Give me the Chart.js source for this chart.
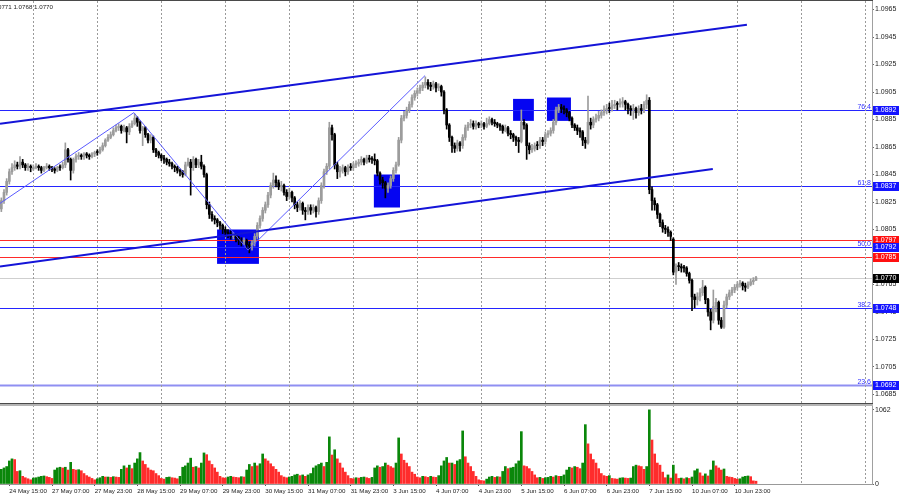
<!DOCTYPE html>
<html>
<head>
<meta charset="utf-8">
<title>EURUSD H1</title>
<script src="https://cdn.jsdelivr.net/npm/chart.js@4.4.1/dist/chart.umd.min.js"></script>
<style>
  html, body { margin: 0; padding: 0; background: #fff; }
  canvas { display: block; }
</style>
</head>
<body>
<canvas id="chart" width="900" height="500"></canvas>
<script>
// EURUSD H1, from 24 May 12:00 to 11 Jun 07:00 (one value per hourly bar)
const days = ["24 May", "27 May", "28 May", "29 May", "30 May", "31 May", "3 Jun",
  "4 Jun", "5 Jun", "6 Jun", "7 Jun", "10 Jun", "11 Jun", "12 Jun", "13 Jun"];

const opens = [
  1.0820,1.0826,1.0832,1.0840,1.0847,1.0850,1.0852,1.0851,1.0854,1.0852,1.0850,1.0851,
  1.0849,1.0850,1.0851,1.0850,1.0848,1.0850,1.0851,1.0850,1.0849,1.0848,1.0850,1.0850,
  1.0852,1.0863,1.0856,1.0848,1.0856,1.0858,1.0859,1.0858,1.0860,1.0859,1.0858,1.0860,
  1.0861,1.0861,1.0863,1.0866,1.0870,1.0872,1.0874,1.0877,1.0879,1.0880,1.0877,1.0879,
  1.0876,1.0880,1.0882,1.0886,1.0883,1.0877,1.0879,1.0874,1.0870,1.0872,1.0863,1.0861,
  1.0859,1.0857,1.0856,1.0854,1.0853,1.0851,1.0850,1.0848,1.0847,1.0845,1.0852,1.0854,
  1.0850,1.0856,1.0852,1.0854,1.0851,1.0845,1.0823,1.0816,1.0813,1.0812,1.0810,1.0808,
  1.0805,1.0803,1.0802,1.0800,1.0801,1.0799,1.0797,1.0796,1.0797,1.0794,1.0793,1.0795,
  1.0800,1.0808,1.0813,1.0819,1.0823,1.0830,1.0837,1.0841,1.0839,1.0836,1.0837,1.0832,
  1.0829,1.0832,1.0828,1.0823,1.0821,1.0824,1.0819,1.0818,1.0821,1.0819,1.0821,1.0818,
  1.0826,1.0837,1.0847,1.0851,1.0879,1.0874,1.0852,1.0847,1.0848,1.0850,1.0847,1.0850,
  1.0850,1.0852,1.0853,1.0854,1.0856,1.0854,1.0857,1.0856,1.0856,1.0855,1.0846,1.0841,
  1.0839,1.0835,1.0837,1.0842,1.0848,1.0852,1.0870,1.0886,1.0888,1.0892,1.0896,1.0901,
  1.0904,1.0906,1.0908,1.0910,1.0912,1.0910,1.0909,1.0911,1.0908,1.0909,1.0905,1.0892,
  1.0881,1.0872,1.0866,1.0864,1.0868,1.0866,1.0872,1.0879,1.0881,1.0882,1.0880,1.0882,
  1.0881,1.0882,1.0880,1.0882,1.0885,1.0883,1.0882,1.0881,1.0880,1.0877,1.0879,1.0875,
  1.0874,1.0872,1.0870,1.0869,1.0883,1.0881,1.0866,1.0863,1.0864,1.0866,1.0866,1.0870,
  1.0869,1.0874,1.0875,1.0877,1.0883,1.0892,1.0894,1.0893,1.0892,1.0890,1.0886,1.0881,
  1.0879,1.0877,1.0876,1.0870,1.0868,1.0883,1.0881,1.0885,1.0886,1.0888,1.0890,1.0892,
  1.0893,1.0893,1.0895,1.0896,1.0896,1.0897,1.0898,1.0896,1.0893,1.0892,1.0893,1.0890,
  1.0893,1.0892,1.0896,1.0899,1.0834,1.0826,1.0823,1.0816,1.0810,1.0806,1.0805,1.0803,
  1.0798,1.0774,1.0778,1.0778,1.0777,1.0777,1.0773,1.0768,1.0756,1.0754,1.0756,1.0759,
  1.0763,1.0754,1.0745,1.0739,1.0749,1.0752,1.0739,1.0734,1.0750,1.0756,1.0759,1.0761,
  1.0763,1.0765,1.0766,1.0764,1.0763,1.0765,1.0767,1.0768
];
const highs = [
  1.0828,1.0834,1.0842,1.0849,1.0853,1.0855,1.0854,1.0858,1.0856,1.0853,1.0853,1.0852,
  1.0852,1.0853,1.0852,1.0851,1.0851,1.0853,1.0852,1.0851,1.0850,1.0851,1.0852,1.0854,
  1.0868,1.0864,1.0857,1.0857,1.0860,1.0861,1.0860,1.0861,1.0861,1.0860,1.0861,1.0862,
  1.0863,1.0865,1.0868,1.0871,1.0874,1.0876,1.0879,1.0881,1.0882,1.0881,1.0881,1.0880,
  1.0882,1.0884,1.0889,1.0887,1.0884,1.0880,1.0880,1.0875,1.0874,1.0873,1.0864,1.0862,
  1.0860,1.0859,1.0857,1.0856,1.0854,1.0852,1.0851,1.0849,1.0848,1.0854,1.0857,1.0856,
  1.0858,1.0857,1.0856,1.0859,1.0852,1.0846,1.0825,1.0818,1.0815,1.0813,1.0811,1.0809,
  1.0807,1.0805,1.0804,1.0803,1.0802,1.0800,1.0799,1.0799,1.0798,1.0796,1.0797,1.0802,
  1.0810,1.0815,1.0821,1.0825,1.0832,1.0839,1.0846,1.0844,1.0841,1.0840,1.0838,1.0834,
  1.0835,1.0833,1.0829,1.0825,1.0826,1.0825,1.0821,1.0823,1.0823,1.0823,1.0822,1.0828,
  1.0839,1.0849,1.0853,1.0883,1.0881,1.0875,1.0854,1.0851,1.0852,1.0851,1.0852,1.0853,
  1.0854,1.0855,1.0856,1.0858,1.0857,1.0859,1.0859,1.0858,1.0860,1.0856,1.0847,1.0843,
  1.0840,1.0839,1.0844,1.0850,1.0854,1.0872,1.0888,1.0891,1.0894,1.0898,1.0903,1.0906,
  1.0908,1.0910,1.0912,1.0916,1.0914,1.0912,1.0913,1.0912,1.0911,1.0910,1.0906,1.0893,
  1.0882,1.0873,1.0868,1.0870,1.0869,1.0874,1.0881,1.0883,1.0885,1.0884,1.0884,1.0883,
  1.0884,1.0883,1.0886,1.0887,1.0886,1.0885,1.0883,1.0882,1.0881,1.0881,1.0880,1.0877,
  1.0875,1.0873,1.0872,1.0892,1.0885,1.0882,1.0868,1.0867,1.0868,1.0869,1.0872,1.0872,
  1.0876,1.0877,1.0879,1.0885,1.0894,1.0896,1.0896,1.0895,1.0893,1.0891,1.0887,1.0882,
  1.0881,1.0879,1.0877,1.0872,1.0902,1.0886,1.0887,1.0889,1.0891,1.0892,1.0895,1.0896,
  1.0897,1.0899,1.0899,1.0898,1.0900,1.0901,1.0899,1.0897,1.0895,1.0896,1.0894,1.0895,
  1.0896,1.0898,1.0903,1.0901,1.0836,1.0828,1.0824,1.0817,1.0812,1.0808,1.0807,1.0804,
  1.0799,1.0780,1.0781,1.0780,1.0779,1.0778,1.0774,1.0769,1.0758,1.0759,1.0762,1.0768,
  1.0764,1.0755,1.0747,1.0761,1.0755,1.0753,1.0741,1.0753,1.0758,1.0761,1.0763,1.0765,
  1.0767,1.0768,1.0767,1.0766,1.0767,1.0769,1.0770,1.0771
];
const lows = [
  1.0818,1.0824,1.0830,1.0838,1.0845,1.0848,1.0849,1.0849,1.0850,1.0848,1.0848,1.0847,
  1.0848,1.0849,1.0848,1.0846,1.0847,1.0849,1.0848,1.0847,1.0846,1.0847,1.0848,1.0849,
  1.0850,1.0854,1.0841,1.0846,1.0854,1.0856,1.0856,1.0856,1.0857,1.0856,1.0857,1.0858,
  1.0859,1.0860,1.0862,1.0865,1.0869,1.0871,1.0873,1.0876,1.0877,1.0875,1.0876,1.0868,
  1.0874,1.0879,1.0881,1.0880,1.0875,1.0866,1.0872,1.0868,1.0868,1.0861,1.0858,1.0857,
  1.0855,1.0853,1.0852,1.0851,1.0849,1.0847,1.0846,1.0844,1.0843,1.0844,1.0851,1.0830,
  1.0848,1.0850,1.0850,1.0849,1.0843,1.0820,1.0813,1.0811,1.0809,1.0807,1.0805,1.0802,
  1.0800,1.0799,1.0798,1.0798,1.0796,1.0794,1.0793,1.0794,1.0791,1.0788,1.0790,1.0793,
  1.0798,1.0806,1.0811,1.0817,1.0821,1.0828,1.0835,1.0836,1.0834,1.0833,1.0830,1.0826,
  1.0827,1.0825,1.0820,1.0818,1.0819,1.0816,1.0812,1.0816,1.0816,1.0817,1.0814,1.0816,
  1.0824,1.0835,1.0845,1.0849,1.0870,1.0849,1.0842,1.0843,1.0846,1.0844,1.0845,1.0848,
  1.0848,1.0850,1.0851,1.0852,1.0852,1.0853,1.0854,1.0853,1.0852,1.0844,1.0838,1.0835,
  1.0828,1.0832,1.0835,1.0840,1.0846,1.0851,1.0868,1.0884,1.0886,1.0890,1.0894,1.0899,
  1.0902,1.0904,1.0906,1.0908,1.0907,1.0906,1.0907,1.0905,1.0906,1.0902,1.0889,1.0878,
  1.0869,1.0861,1.0861,1.0862,1.0862,1.0864,1.0870,1.0877,1.0879,1.0878,1.0878,1.0879,
  1.0879,1.0878,1.0879,1.0881,1.0881,1.0880,1.0879,1.0877,1.0875,1.0876,1.0873,1.0871,
  1.0869,1.0866,1.0861,1.0868,1.0878,1.0856,1.0860,1.0861,1.0862,1.0863,1.0864,1.0866,
  1.0867,1.0872,1.0873,1.0875,1.0881,1.0890,1.0890,1.0889,1.0887,1.0884,1.0879,1.0877,
  1.0874,1.0872,1.0866,1.0864,1.0867,1.0878,1.0879,1.0883,1.0884,1.0886,1.0888,1.0889,
  1.0890,1.0891,1.0893,1.0892,1.0894,1.0894,1.0892,1.0889,1.0888,1.0885,1.0886,1.0888,
  1.0889,1.0890,1.0893,1.0831,1.0819,1.0819,1.0813,1.0807,1.0803,1.0802,1.0800,1.0797,
  1.0772,1.0765,1.0775,1.0774,1.0774,1.0771,1.0766,1.0746,1.0748,1.0750,1.0753,1.0757,
  1.0751,1.0742,1.0732,1.0737,1.0745,1.0736,1.0733,1.0733,1.0748,1.0754,1.0757,1.0759,
  1.0761,1.0763,1.0761,1.0760,1.0762,1.0764,1.0765,1.0768
];
const closes = [
  1.0826,1.0832,1.0840,1.0847,1.0850,1.0852,1.0851,1.0854,1.0852,1.0850,1.0851,1.0850,
  1.0850,1.0851,1.0850,1.0848,1.0850,1.0851,1.0850,1.0849,1.0848,1.0850,1.0850,1.0852,
  1.0863,1.0856,1.0848,1.0856,1.0858,1.0859,1.0858,1.0860,1.0859,1.0858,1.0860,1.0861,
  1.0861,1.0863,1.0866,1.0870,1.0872,1.0874,1.0877,1.0879,1.0880,1.0877,1.0879,1.0876,
  1.0880,1.0882,1.0886,1.0883,1.0877,1.0879,1.0874,1.0870,1.0872,1.0863,1.0861,1.0859,
  1.0857,1.0856,1.0854,1.0853,1.0851,1.0850,1.0848,1.0847,1.0845,1.0852,1.0854,1.0850,
  1.0856,1.0852,1.0854,1.0851,1.0845,1.0823,1.0816,1.0813,1.0812,1.0810,1.0808,1.0805,
  1.0803,1.0802,1.0800,1.0801,1.0799,1.0797,1.0796,1.0797,1.0794,1.0793,1.0795,1.0800,
  1.0808,1.0813,1.0819,1.0823,1.0830,1.0837,1.0841,1.0839,1.0836,1.0837,1.0832,1.0829,
  1.0832,1.0828,1.0823,1.0821,1.0824,1.0819,1.0818,1.0821,1.0819,1.0821,1.0818,1.0826,
  1.0837,1.0847,1.0851,1.0879,1.0874,1.0852,1.0847,1.0848,1.0850,1.0847,1.0850,1.0850,
  1.0852,1.0853,1.0854,1.0856,1.0854,1.0857,1.0856,1.0856,1.0855,1.0846,1.0841,1.0839,
  1.0835,1.0837,1.0842,1.0848,1.0852,1.0870,1.0886,1.0888,1.0892,1.0896,1.0901,1.0904,
  1.0906,1.0908,1.0910,1.0912,1.0910,1.0909,1.0911,1.0908,1.0909,1.0905,1.0892,1.0881,
  1.0872,1.0866,1.0864,1.0868,1.0866,1.0872,1.0879,1.0881,1.0882,1.0880,1.0882,1.0881,
  1.0882,1.0880,1.0882,1.0885,1.0883,1.0882,1.0881,1.0880,1.0877,1.0879,1.0875,1.0874,
  1.0872,1.0870,1.0869,1.0883,1.0881,1.0866,1.0863,1.0864,1.0866,1.0866,1.0870,1.0869,
  1.0874,1.0875,1.0877,1.0883,1.0892,1.0894,1.0893,1.0892,1.0890,1.0886,1.0881,1.0879,
  1.0877,1.0876,1.0870,1.0868,1.0883,1.0881,1.0885,1.0886,1.0888,1.0890,1.0892,1.0893,
  1.0893,1.0895,1.0896,1.0896,1.0897,1.0898,1.0896,1.0893,1.0892,1.0893,1.0890,1.0893,
  1.0892,1.0896,1.0899,1.0834,1.0826,1.0823,1.0816,1.0810,1.0806,1.0805,1.0803,1.0800,
  1.0774,1.0778,1.0778,1.0777,1.0777,1.0773,1.0768,1.0756,1.0754,1.0756,1.0759,1.0763,
  1.0754,1.0745,1.0739,1.0749,1.0752,1.0739,1.0734,1.0750,1.0756,1.0759,1.0761,1.0763,
  1.0765,1.0766,1.0764,1.0763,1.0765,1.0767,1.0768,1.0770
];
const volumes = [
  210,230,250,330,360,350,180,190,110,90,75,60,
  85,90,100,110,115,105,95,80,200,230,240,230,
  240,200,310,210,200,205,190,150,120,100,80,60,
  75,90,110,100,100,95,105,100,95,210,260,230,
  270,220,300,360,450,330,280,230,200,190,150,120,
  80,70,95,100,90,85,75,110,240,260,300,370,
  240,250,230,300,445,420,330,280,230,170,110,90,
  85,100,110,100,95,90,105,100,200,280,250,300,
  260,290,430,360,330,290,250,210,170,120,100,90,
  100,110,130,140,120,130,110,130,150,230,260,280,
  300,250,310,675,415,490,360,300,230,170,120,80,
  75,90,85,95,100,90,80,95,230,260,240,250,
  300,270,250,230,300,660,430,340,300,250,170,140,
  100,90,110,105,95,110,100,95,120,260,330,380,
  300,300,280,330,350,760,390,300,250,180,110,60,
  50,45,70,100,110,95,105,100,180,250,220,230,
  240,290,330,750,260,250,220,180,130,90,95,80,
  90,95,110,100,120,110,110,130,200,240,230,250,
  240,220,300,850,575,430,350,300,220,150,120,110,
  120,80,75,70,85,90,85,80,85,250,270,260,
  250,210,250,1062,630,430,300,270,170,90,130,85,
  270,145,80,85,75,90,80,100,190,215,160,115,
  145,115,200,330,260,230,200,215,110,100,95,80,
  70,75,100,110,115,105,45,40
];

const priceTicks = [1.0685, 1.0705, 1.0725, 1.0745, 1.0765, 1.0785, 1.0805, 1.0825,
  1.0845, 1.0865, 1.0885, 1.0905, 1.0925, 1.0945, 1.0965];
const volumeTicks = [0, 1062];

// fibonacci grid and the two red levels
const fibNames = ["76.4", "61.8", "50.0", "38.2", "23.6"];
const fibPrices = [1.0892, 1.0837, 1.0792, 1.0748, 1.0692];
const redLevels = [1.0797, 1.0785];

// trend channel and zigzag, as [bar, price]
const upperChannel = [[-0.5, 1.0882], [279.6, 1.0954]];
const lowerChannel = [[-0.5, 1.0778], [266.8, 1.0849]];
const zigzag = [[-0.5, 1.0824], [49.7, 1.0890], [92.5, 1.0790], [158.9, 1.0917]];

// blue zones: bar from / to, price top / bottom
const zoneFrom = [80.9, 139.7, 191.9, 204.6];
const zoneTo = [96.6, 149.5, 199.7, 213.6];
const zoneTop = [1.0805, 1.0845, 1.0900, 1.0901];
const zoneBottom = [1.0780, 1.0821, 1.0884, 1.0884];

// hourly slot labels, first slot is 24 May 12:00
const timeLabels = [];
days.forEach((d, k) => {
  for (let h = k === 0 ? 12 : 0; h < 24; h++) {
    timeLabels.push(d + " " + String(h).padStart(2, "0") + ":00");
  }
});

const nBars = closes.length;
const lastSlot = 326;
const labelSlots = [];
for (let i = 3; i < nBars; i += 16) labelSlots.push(i);
const daySlots = [];
for (let i = 12; i <= lastSlot; i += 24) daySlots.push(i);
const tickSlots = [...new Set(labelSlots.concat(daySlots))].sort((a, b) => a - b);

const priceFont = { family: "Liberation Sans", size: 7 };
const timeFont = { family: "Liberation Sans", size: 6.2 };
const bull = "#9c9c9c";
const bear = "#000000";
const candleColors = closes.map((c, i) => (c > opens[i] ? bull : bear));
const volColors = volumes.map((v, i) => (i > 0 && v < volumes[i - 1] ? "#ff2c2c" : "#0a870a"));

const bars = closes.map((c, i) => i);
const current = closes[nBars - 1];

const drawings = {
  id: "drawings",
  beforeDraw(chart) {
    const { ctx, chartArea: a, scales: { x, y } } = chart;
    ctx.save();
    ctx.beginPath();
    ctx.rect(a.left, a.top, a.right - a.left, y.bottom - a.top);
    ctx.clip();
    ctx.fillStyle = "#0505f2";
    zoneFrom.forEach((s, k) => {
      const x1 = x.getPixelForValue(s), x2 = x.getPixelForValue(zoneTo[k]);
      const y1 = y.getPixelForValue(zoneTop[k]), y2 = y.getPixelForValue(zoneBottom[k]);
      ctx.fillRect(x1, y1, x2 - x1, y2 - y1);
    });
    const hline = (p, color, w) => {
      const yy = Math.round(y.getPixelForValue(p)) + 0.5;
      ctx.strokeStyle = color;
      ctx.lineWidth = w;
      ctx.beginPath();
      ctx.moveTo(a.left, yy);
      ctx.lineTo(a.right, yy);
      ctx.stroke();
    };
    hline(current, "#cfcfcf", 1);
    fibPrices.forEach((p, k) => {
      if (k === fibPrices.length - 1) hline(p, "#8f8ff2", 2);
      else hline(p, "#2424ff", 1);
    });
    redLevels.forEach(p => hline(p, "#ff2a2a", 1));
    ctx.restore();
  },
  afterDraw(chart) {
    const { ctx, chartArea: a, scales: { y } } = chart;
    ctx.save();
    // frame and separator between price and volume panes
    ctx.fillStyle = "#4a4a4a";
    ctx.fillRect(0, 0, a.right + 1, 1);
    ctx.fillRect(0, y.bottom, a.right + 1, 1);
    ctx.fillStyle = "#b4b4b4";
    ctx.fillRect(0, y.bottom + 1, a.right + 1, 2);

    ctx.font = "7px Liberation Sans";
    ctx.textBaseline = "alphabetic";
    ctx.textAlign = "right";
    ctx.fillStyle = "#3030ff";
    fibPrices.forEach((p, k) => {
      const yy = Math.round(y.getPixelForValue(p));
      ctx.fillText(fibNames[k], a.right - 1, yy - 1);
    });

    // price tags on the axis
    const tag = (p, bg) => {
      const yy = Math.round(y.getPixelForValue(p));
      ctx.fillStyle = bg;
      ctx.fillRect(a.right + 1, yy - 4, 26, 9);
      ctx.fillStyle = "#ffffff";
      ctx.textAlign = "left";
      ctx.textBaseline = "middle";
      ctx.fillText(p.toFixed(4), a.right + 3, yy + 0.5);
    };
    tag(fibPrices[0], "#1414ff");
    tag(fibPrices[1], "#1414ff");
    tag(redLevels[0], "#ff1010");
    tag(fibPrices[2], "#1414ff");
    tag(redLevels[1], "#ff1010");
    tag(current, "#000000");
    tag(fibPrices[3], "#1414ff");
    tag(fibPrices[4], "#1414ff");

    // header with last bar values
    const last = nBars - 1;
    const head = "EURUSD,H1  " + opens[last].toFixed(4) + " " + highs[last].toFixed(4) + " " +
      lows[last].toFixed(4) + " " + closes[last].toFixed(4);
    ctx.font = "6.2px Liberation Sans";
    ctx.fillStyle = "#222";
    ctx.textAlign = "right";
    ctx.textBaseline = "middle";
    ctx.fillText(head, 53, 7);
    ctx.restore();
  }
};

new Chart(document.getElementById("chart"), {
  type: "bar",
  data: {
    datasets: [
      {
        type: "line", label: "upper channel", order: 0,
        data: upperChannel.map(p => ({ x: p[0], y: p[1] })),
        borderColor: "#1414d8", borderWidth: 2, pointRadius: 0, tension: 0
      },
      {
        type: "line", label: "lower channel", order: 0,
        data: lowerChannel.map(p => ({ x: p[0], y: p[1] })),
        borderColor: "#1414d8", borderWidth: 2, pointRadius: 0, tension: 0
      },
      {
        type: "line", label: "zigzag", order: 0,
        data: zigzag.map(p => ({ x: p[0], y: p[1] })),
        borderColor: "#5a5aff", borderWidth: 1, pointRadius: 0, tension: 0
      },
      {
        label: "body", order: 1, grouped: false, barThickness: 2, minBarLength: 1,
        data: bars.map(i => ({ x: i, y: [opens[i], closes[i]] })),
        backgroundColor: candleColors
      },
      {
        label: "wick", order: 2, grouped: false, barThickness: 1,
        data: bars.map(i => ({ x: i, y: [lows[i], highs[i]] })),
        backgroundColor: candleColors
      },
      {
        label: "volume", order: 3, grouped: false, barThickness: 2, yAxisID: "yv",
        data: bars.map(i => ({ x: i, y: volumes[i] })),
        backgroundColor: volColors
      }
    ]
  },
  options: {
    responsive: false,
    animation: false,
    devicePixelRatio: 1,
    layout: { padding: { top: 1, left: 0, right: 0, bottom: 0 } },
    plugins: { legend: { display: false }, tooltip: { enabled: false } },
    scales: {
      x: {
        type: "linear", offset: false, min: -0.5, max: lastSlot + 0.5,
        afterBuildTicks: s => { s.ticks = tickSlots.map(v => ({ value: v })); },
        afterFit: s => { s.height = 16; s.paddingLeft = 0; s.paddingRight = 0; },
        ticks: {
          autoSkip: false, maxRotation: 0, align: "start", padding: 2, font: timeFont, color: "#222",
          callback: v => (labelSlots.includes(v) ? timeLabels[v] : "")
        },
        grid: {
          offset: false, lineWidth: 1, tickLength: 2,
          color: c => (c.tick && daySlots.includes(c.tick.value) ? "#9a9a9a" : "rgba(0,0,0,0)"),
          tickColor: c => (c.tick && labelSlots.includes(c.tick.value) ? "#555" : "rgba(0,0,0,0)")
        },
        border: { display: true, color: "#999", dash: [2, 2] }
      },
      y: {
        position: "right", stack: "panes", stackWeight: 402,
        min: 1.06788, max: 1.09712,
        afterBuildTicks: s => { s.ticks = priceTicks.map(v => ({ value: v })); },
        afterFit: s => { s.width = 28; s.paddingTop = 0; s.paddingBottom = 0; },
        ticks: { autoSkip: false, padding: 1, font: priceFont, color: "#222", callback: v => v.toFixed(4) },
        grid: { drawOnChartArea: false, tickLength: 2, color: "#666" },
        border: { color: "#a0a0a0" }
      },
      yv: {
        position: "right", stack: "panes", stackWeight: 81,
        min: 0, max: 1160,
        afterBuildTicks: s => { s.ticks = volumeTicks.map(v => ({ value: v })); },
        afterFit: s => { s.width = 28; s.paddingTop = 0; s.paddingBottom = 0; },
        ticks: { autoSkip: false, padding: 1, font: priceFont, color: "#222", callback: v => String(v) },
        grid: { drawOnChartArea: false, tickLength: 2, color: "#666" },
        border: { color: "#a0a0a0" }
      }
    }
  },
  plugins: [drawings]
});
</script>
</body>
</html>
